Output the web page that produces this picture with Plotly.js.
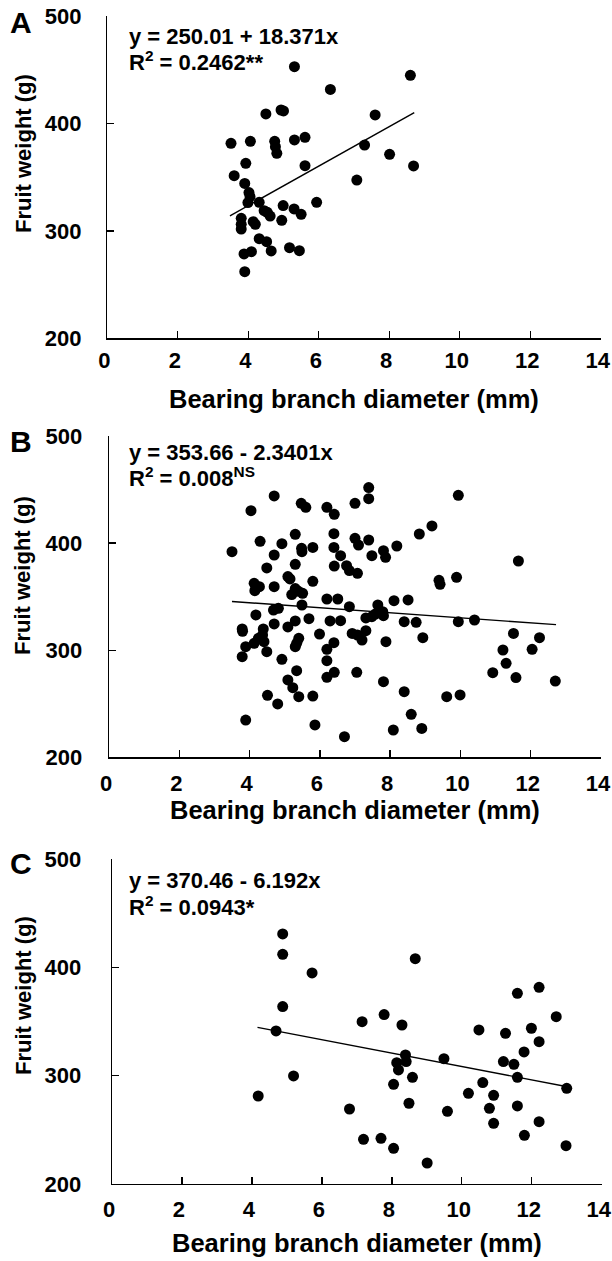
<!DOCTYPE html>
<html>
<head>
<meta charset="utf-8">
<script src="https://cdn.plot.ly/plotly-3.0.1.min.js"></script>
<style>
  html, body { margin: 0; padding: 0; background: #fff; }
  #chart { width: 612px; height: 1261px; }
</style>
</head>
<body>
<div id="chart"></div>
<script>
// ---------- DATA ----------
// Panel A
const aDiameter = [5.31, 8.60, 6.33, 4.50, 4.93, 5.00, 7.60, 3.51, 4.06, 4.75, 4.77, 4.81, 5.31, 5.61, 7.30, 8.01,
  3.93, 5.61, 8.69, 3.60, 7.08, 3.90, 4.02, 4.05, 5.94, 3.99, 4.31, 4.99, 4.45, 4.54, 5.30, 5.50, 4.62, 3.80,
  4.14, 4.95, 3.80, 4.20, 3.80, 4.31, 4.52, 4.65, 5.17, 5.45, 3.88, 4.09, 3.90];
const aWeight = [452.8, 444.8, 431.7, 408.8, 412.5, 411.6, 407.9, 381.5, 383.3, 383.3, 378.4, 372.2, 384.6, 387.1, 379.9, 371.2,
  362.9, 360.7, 360.4, 351.4, 347.3, 344.2, 335.6, 331.8, 326.6, 326.3, 326.6, 323.5, 318.8, 317.3, 320.4, 315.4, 313.8, 311.7,
  308.6, 309.8, 306.1, 306.1, 301.7, 292.7, 289.9, 281.3, 284.4, 281.6, 278.5, 280.6, 262.0];

// Panel B
const bDiameter = [3.50, 4.04, 4.70, 5.47, 5.60, 6.20, 6.41, 7.00, 7.39, 7.39, 9.94, 9.19, 8.83, 4.30, 4.92, 5.30,
  5.48, 5.49, 5.80, 6.40, 6.40, 6.59, 7.00, 7.10, 7.39, 7.48, 7.81, 7.87, 8.19, 4.70, 4.49, 5.30, 6.41, 6.76,
  6.84, 7.07, 11.65, 9.39, 9.42, 9.89, 5.09, 4.13, 4.28, 4.15, 4.70, 5.80, 5.30, 5.51, 5.20, 6.20, 6.51, 8.11,
  8.51, 5.49, 6.84, 7.65, 4.68, 4.82, 4.18, 7.79, 7.58, 7.48, 7.31, 7.81, 5.69, 5.30, 6.29, 6.59, 4.70, 8.40,
  8.74, 9.94, 10.40, 5.09, 3.79, 3.80, 4.39, 4.37, 4.25, 4.41, 4.13, 3.89, 3.79, 4.49, 5.40, 5.34, 5.30, 5.99,
  6.92, 7.07, 7.31, 7.20, 6.40, 6.20, 7.88, 8.93, 11.51, 12.25, 11.21, 12.04, 11.30, 10.92, 11.58, 12.70, 4.92,
  6.20, 5.34, 6.41, 6.20, 7.05, 5.09, 5.23, 5.40, 4.51, 4.80, 5.80, 7.81, 8.40, 9.61, 9.99, 8.60, 3.89, 5.86,
  8.09, 8.90, 6.70, 5.15, 5.39];
const bWeight = [392.0, 430.3, 444.0, 437.1, 433.4, 433.4, 426.9, 437.1, 451.8, 441.5, 444.6, 416.0, 408.5, 401.7, 399.5, 408.2,
  395.1, 392.0, 396.0, 408.8, 396.0, 388.3, 404.5, 398.2, 402.9, 388.3, 392.9, 386.7, 397.3, 388.9, 376.8, 380.2, 378.6, 378.9,
  374.3, 371.8, 383.3, 365.2, 361.5, 368.0, 368.7, 362.4, 359.3, 355.6, 359.3, 364.3, 357.5, 353.1, 351.9, 347.8, 347.8, 346.2,
  346.9, 342.2, 340.6, 342.2, 337.5, 339.1, 332.9, 336.0, 333.8, 331.3, 330.1, 332.2, 329.4, 327.3, 327.3, 327.6, 324.5, 326.6,
  326.0, 326.6, 328.2, 321.7, 319.8, 317.6, 319.8, 314.2, 311.1, 308.0, 306.4, 303.3, 294.0, 298.6, 311.1, 306.4, 303.3, 315.1,
  315.7, 314.2, 318.2, 309.5, 307.0, 300.8, 308.0, 311.7, 315.7, 311.7, 300.2, 300.8, 287.7, 279.0, 274.4, 271.2, 291.5,
  290.2, 280.9, 279.3, 274.7, 279.3, 272.2, 265.0, 256.6, 257.9, 249.8, 257.2, 270.6, 261.3, 256.6, 258.2, 240.1, 234.8, 230.2,
  225.5, 227.0, 219.3, 366.5, 355.0];

// Panel C
const cDiameter = [4.88, 4.88, 8.67, 5.72, 12.21, 11.59, 4.88, 12.70, 7.78, 7.15, 8.29, 4.69, 10.49, 11.25, 11.99, 12.21,
  11.78, 8.39, 8.41, 8.14, 8.19, 9.49, 11.19, 11.49, 11.59, 5.19, 8.59, 8.05, 10.60, 13.00, 4.18, 10.19, 10.91,
  8.49, 6.79, 10.79, 9.59, 11.59, 10.91, 12.21, 7.19, 7.69, 8.05, 11.79, 12.98, 9.01];
const cWeight = [431.0, 412.2, 408.2, 395.0, 381.7, 376.2, 363.9, 354.6, 356.5, 350.0, 346.9, 341.4, 342.3, 339.2, 343.9, 331.5,
  322.0, 319.2, 313.1, 312.1, 305.4, 315.8, 313.1, 310.6, 298.6, 299.8, 298.6, 292.1, 293.7, 288.4, 281.3, 283.8, 281.9,
  274.6, 269.3, 269.9, 267.2, 272.1, 256.1, 257.6, 241.3, 242.2, 233.0, 245.0, 235.4, 219.4];

// Regression fits (intercept, slope, x extent)
const fitIntercept = [250.01, 353.66, 370.46];
const fitSlope = [18.371, -2.3401, -6.192];
const fitXStart = [3.48, 3.50, 4.16];
const fitXEnd = [8.71, 12.72, 13.02];

const panelLetters = ["A", "B", "C"];
const equationTexts = ["y = 250.01 + 18.371x", "y = 353.66 - 2.3401x", "y = 370.46 - 6.192x"];
const r2Texts = ["R<sup>2</sup> = 0.2462**", "R<sup>2</sup> = 0.008<sup>NS</sup>", "R<sup>2</sup> = 0.0943*"];
const xTitle = "Bearing branch diameter (mm)";
const yTitle = "Fruit weight (g)";
const xTickVals = [0, 2, 4, 6, 8, 10, 12, 14];
const xTickLabels = ["0", "2", "4", "6", "8", "10", "12", "14"];
const yTickVals = [200, 300, 400, 500];
const yTickLabels = ["200", "300", "400", "500"];

// ---------- LAYOUT GEOMETRY (pixels) ----------
const W = 612, H = 1261;
const FONT = "Liberation Sans, Arial, Helvetica, sans-serif";
const panels = [
  {l: 107.3, r: 600.7, t: 16.0, b: 338.3, letterY: 22.5, eq1: 36, eq2: 61, yTitleY: 154, xTitleY: 399, xStand: 2, yStand: 20},
  {l: 109.0, r: 601.0, t: 436.0, b: 757.3, letterY: 442, eq1: 452, eq2: 477, yTitleY: 576, xTitleY: 810, xStand: 6, yStand: 21},
  {l: 112.0, r: 601.7, t: 859.3, b: 1184.0, letterY: 863, eq1: 880, eq2: 906, yTitleY: 996, xTitleY: 1243, xStand: 5, yStand: 25}
];
const px2x = p => p / W;
const px2y = p => 1 - p / H;

const xs = [aDiameter, bDiameter, cDiameter];
const ys = [aWeight, bWeight, cWeight];

const traces = [];
const layout = {
  width: W, height: H,
  margin: {l: 0, r: 0, t: 0, b: 0, pad: 0},
  paper_bgcolor: "#ffffff", plot_bgcolor: "#ffffff",
  showlegend: false,
  font: {family: FONT, color: "#000"},
  annotations: []
};

panels.forEach((p, i) => {
  const sx = i === 0 ? "" : String(i + 1);
  traces.push({
    type: "scatter", mode: "markers",
    x: xs[i], y: ys[i],
    xaxis: "x" + sx, yaxis: "y" + sx,
    marker: {color: "#000", size: 11, line: {width: 0}},
    hoverinfo: "skip"
  });
  const lx = [fitXStart[i], fitXEnd[i]];
  traces.push({
    type: "scatter", mode: "lines",
    x: lx, y: lx.map(v => fitIntercept[i] + fitSlope[i] * v),
    xaxis: "x" + sx, yaxis: "y" + sx,
    line: {color: "#000", width: 1.4},
    hoverinfo: "skip"
  });
  const common = {
    showgrid: false, zeroline: false, showline: true, linecolor: "#000", linewidth: 1.4,
    ticks: "inside", ticklen: 7, tickwidth: 1.4, tickcolor: "#000",
    tickfont: {family: FONT, size: 22, color: "#000", weight: "bold"},
    ticklabeloverflow: "allow",
    fixedrange: true
  };
  layout["xaxis" + sx] = Object.assign({}, common, {
    domain: [px2x(p.l), px2x(p.r)],
    anchor: "y" + sx,
    range: [0, 14], tickmode: "array", tickvals: xTickVals, ticktext: xTickLabels,
    ticklabelstandoff: p.xStand,
    ticklabelshift: -3
  });
  layout["yaxis" + sx] = Object.assign({}, common, {
    domain: [px2y(p.b), px2y(p.t)],
    anchor: "x" + sx,
    range: [200, 500], tickmode: "array", tickvals: yTickVals, ticktext: yTickLabels,
    ticklabelstandoff: p.yStand
  });
  layout.annotations.push(
    {xref: "paper", yref: "paper", x: px2x(21), y: px2y(p.letterY), xanchor: "center", yanchor: "middle",
     text: "<b>" + panelLetters[i] + "</b>", showarrow: false, font: {family: FONT, size: 30, color: "#000"}},
    {xref: "paper", yref: "paper", x: px2x(127), y: px2y(p.eq1), xanchor: "left", yanchor: "middle",
     text: "<b>" + equationTexts[i] + "</b>", showarrow: false, font: {family: FONT, size: 22, color: "#000"}},
    {xref: "paper", yref: "paper", x: px2x(127), y: px2y(p.eq2), xanchor: "left", yanchor: "middle",
     text: "<b>" + r2Texts[i] + "</b>", showarrow: false, font: {family: FONT, size: 22, color: "#000"}},
    {xref: "paper", yref: "paper", x: px2x(23), y: px2y(p.yTitleY), xanchor: "center", yanchor: "middle",
     textangle: -90, text: "<b>" + yTitle + "</b>", showarrow: false, font: {family: FONT, size: 22, color: "#000"}},
    {xref: "paper", yref: "paper", x: px2x((p.l + p.r) / 2), y: px2y(p.xTitleY), xanchor: "center", yanchor: "middle",
     text: "<b>" + xTitle + "</b>", showarrow: false, font: {family: FONT, size: 25.5, color: "#000"}}
  );
});

Plotly.newPlot("chart", traces, layout, {staticPlot: true, displayModeBar: false});
</script>
</body>
</html>
